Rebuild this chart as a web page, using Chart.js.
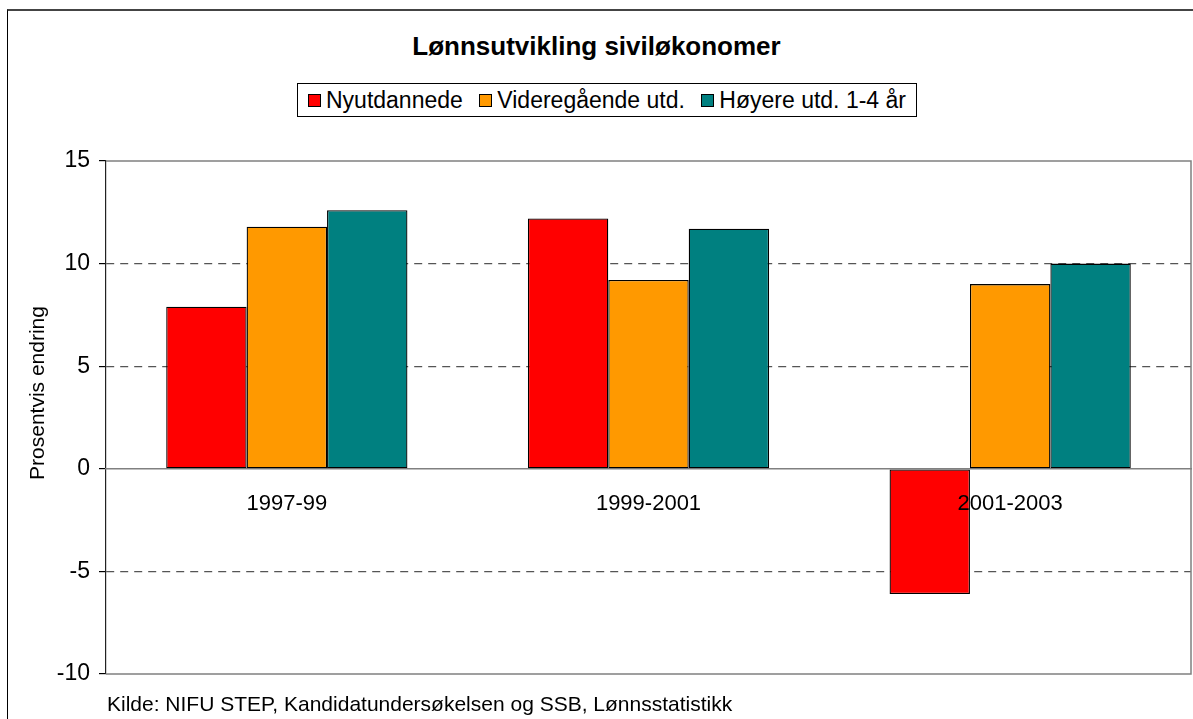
<!DOCTYPE html>
<html>
<head>
<meta charset="utf-8">
<script src="https://cdn.jsdelivr.net/npm/chart.js@4.4.1/dist/chart.umd.min.js"></script>
<style>
  html, body { margin: 0; padding: 0; background: #fff; overflow: hidden; }
  #wrap { position: relative; width: 1193px; height: 719px; font-family: 'Liberation Sans', Arial, sans-serif; color: #000; }
  #frame { position: absolute; left: 7px; top: 9px; width: 1200px; height: 720px; border-top: 2px solid #444; border-left: 1px solid #000; }
  #title { position: absolute; left: 0; width: 1193px; top: 31px; text-align: center; font-weight: bold; font-size: 26px; }
  #legend { position: absolute; left: 297px; top: 83px; width: 598px; height: 32px; border: 1px solid #000; padding: 0 10px;
            display: flex; align-items: center; justify-content: space-between; font-size: 23px; }
  .item { display: flex; align-items: center; }
  .box { width: 11px; height: 11px; border: 1px solid #000; margin-right: 5px; }
  #source { position: absolute; left: 107px; top: 692px; font-size: 21px; }
  canvas { position: absolute; left: 0; top: 0; }
</style>
</head>
<body>
<div id="wrap">
  <div id="frame"></div>
  <div id="title">Lønnsutvikling siviløkonomer</div>
  <div id="legend"></div>
  <canvas id="chart" width="1193" height="719"></canvas>
  <div id="source">Kilde: NIFU STEP, Kandidatundersøkelsen og SSB, Lønnsstatistikk</div>
</div>
<script>
/* data */
var categories = ['1997-99', '1999-2001', '2001-2003'];
var nyutdannede = [7.9, 12.2, -6.1];
var videregaende = [11.8, 9.2, 9.0];
var hoyere = [12.6, 11.7, 10.0];
var seriesNames = ['Nyutdannede', 'Videregående utd.', 'Høyere utd. 1-4 år'];
var seriesColors = ['#ff0000', '#ff9900', '#008080'];
var yMin = -10, yMax = 15, yStep = 5;
var yTitle = 'Prosentvis endring';

var FONT = "'Liberation Sans', Arial, sans-serif";
var seriesValues = [nyutdannede, videregaende, hoyere];

/* ---------- legend (html) ---------- */
var legendEl = document.getElementById('legend');
seriesNames.forEach(function (name, i) {
  var item = document.createElement('div');
  item.className = 'item';
  item.innerHTML = '<span class="box" style="background:' + seriesColors[i] + '"></span><span></span>';
  item.lastChild.textContent = name;
  legendEl.appendChild(item);
});

/* ---------- plot border + rotated axis title ---------- */
var plotFrame = {
  id: 'plotFrame',
  beforeDatasetsDraw: function (chart) {
    var a = chart.chartArea, ctx = chart.ctx;
    ctx.save();
    ctx.strokeStyle = '#808080';
    ctx.lineWidth = 1.5;
    ctx.beginPath();
    ctx.moveTo(a.left, a.top);
    ctx.lineTo(a.right, a.top);
    ctx.lineTo(a.right, a.bottom);
    ctx.lineTo(a.left, a.bottom);
    ctx.stroke();
    ctx.restore();
  },
  afterDraw: function (chart) {
    var ctx = chart.ctx;
    ctx.save();
    ctx.translate(38, 393);
    ctx.rotate(-Math.PI / 2);
    ctx.font = '21px ' + FONT;
    ctx.fillStyle = '#000';
    ctx.textAlign = 'center';
    ctx.textBaseline = 'middle';
    ctx.fillText(yTitle, 0, 0);
    ctx.restore();
  }
};

new Chart(document.getElementById('chart'), {
  type: 'bar',
  data: {
    labels: categories,
    datasets: seriesValues.map(function (vals, i) {
      return {
        label: seriesNames[i],
        data: vals,
        backgroundColor: seriesColors[i],
        borderColor: '#000',
        borderWidth: 1.3,
        borderSkipped: false,
        categoryPercentage: 0.667,
        barPercentage: 1
      };
    })
  },
  options: {
    responsive: false,
    animation: false,
    layout: { padding: { left: 0, top: 161, right: 2, bottom: 45 } },
    plugins: { legend: { display: false }, title: { display: false }, tooltip: { enabled: false } },
    scales: {
      y: {
        min: yMin,
        max: yMax,
        afterFit: function (scale) { scale.width = 106; },
        ticks: { stepSize: yStep, color: '#000', font: { family: FONT, size: 23 }, padding: 9 },
        grid: {
          color: function (c) {
            var v = c.tick && c.tick.value;
            return (v === yMin || v === yMax || v === 0) ? 'rgba(0,0,0,0)' : '#555';
          },
          lineWidth: 1.2,
          tickColor: '#000',
          tickLength: 7
        },
        border: { color: '#222', width: 1.2, dash: [8, 6] }
      },
      x: {
        position: { y: 0 },
        offset: true,
        grid: { display: false, drawTicks: false },
        border: { color: '#808080', width: 1.5 },
        // z: 1 puts the category labels on top of the bars, like the original
        ticks: { color: '#000', font: { family: FONT, size: 22 }, padding: 22, z: 1 }
      }
    }
  },
  plugins: [plotFrame]
});
</script>
</body>
</html>
